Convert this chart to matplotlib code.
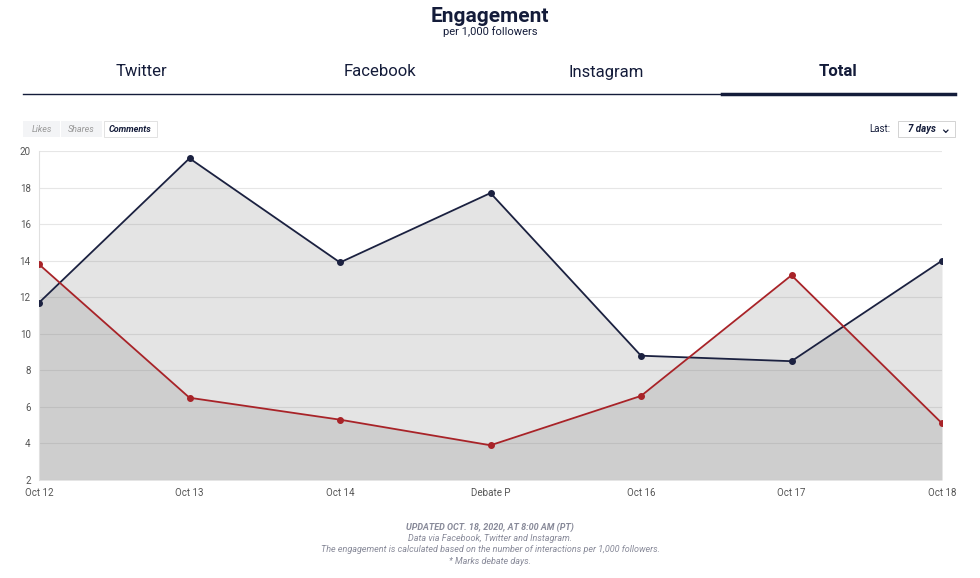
import matplotlib
matplotlib.use("Agg")
import matplotlib.pyplot as plt
from matplotlib.patches import FancyBboxPatch, Rectangle

categories = ["Oct 12", "Oct 13", "Oct 14", "Debate P", "Oct 16", "Oct 17", "Oct 18"]
navy_values = [11.7, 19.6, 13.9, 17.7, 8.8, 8.5, 14.0]
red_values = [13.8, 6.5, 5.3, 3.9, 6.6, 13.2, 5.1]
y_ticks = [2, 4, 6, 8, 10, 12, 14, 16, 18, 20]
tabs = ["Twitter", "Facebook", "Instagram", "Total"]

plt.rcParams["font.family"] = "Roboto"
fig = plt.figure(figsize=(9.8, 5.78), dpi=100)
W, H = 980, 578
def fx(px): return px / W
def fy(py): return 1 - py / H

ax = fig.add_axes([fx(39), fy(480), fx(942) - fx(39), fy(151) - fy(480)])
x = list(range(len(categories)))
for vals, col in [(navy_values, "#1b2140"), (red_values, "#a82328")]:
    ax.fill_between(x, 2, vals, color="#848484", alpha=0.22, linewidth=0)
for vals, col in [(navy_values, "#1b2140"), (red_values, "#a82328")]:
    ax.plot(x, vals, color=col, lw=1.3, marker="o", ms=4, zorder=3)
ax.set_xlim(0, len(categories) - 1)
ax.set_ylim(2, 20)
ax.set_yticks(y_ticks)
ax.set_xticks(x)
ax.set_xticklabels(categories)
ax.tick_params(labelsize=7, colors="#555555", length=0, pad=6)
ax.grid(axis="y", color="#e6e6e6", lw=0.8)
ax.set_axisbelow(True)
for s in ["top", "right", "bottom"]:
    ax.spines[s].set_visible(False)
ax.spines["left"].set_color("#e0e0e0")

fig.text(0.5, fy(16), "Engagement", ha="center", va="center", fontsize=15, fontweight="bold", color="#141c3a")
fig.text(0.5, fy(32), "per 1,000 followers", ha="center", va="center", fontsize=8, color="#141c3a")
tab_x = [141, 380, 606, 838]
for t, tx in zip(tabs, tab_x):
    fig.text(fx(tx), fy(72), t, ha="center", va="center", fontsize=12,
             fontweight="bold" if t == "Total" else "normal", color="#141c3a")
fig.add_artist(plt.Line2D([fx(23), fx(955)], [fy(94), fy(94)], color="#141c3a", lw=1))
fig.add_artist(plt.Line2D([fx(722), fx(955)], [fy(94), fy(94)], color="#141c3a", lw=2.5))

for label, x0, x1, active in [("Likes", 23, 60, False), ("Shares", 61, 102, False), ("Comments", 104, 157, True)]:
    fig.add_artist(Rectangle((fx(x0), fy(137)), fx(x1 - x0), fy(121) - fy(137),
                             facecolor="white" if active else "#f3f4f6",
                             edgecolor="#dddddd" if active else "none", lw=0.6))
    fig.text(fx((x0 + x1) / 2), fy(129), label, ha="center", va="center", fontsize=6.5,
             style="italic", fontweight="bold" if active else "normal",
             color="#141c3a" if active else "#999999")
fig.text(fx(890), fy(129), "Last:", ha="right", va="center", fontsize=7, color="#141c3a")
fig.add_artist(Rectangle((fx(898), fy(137)), fx(57), fy(121) - fy(137), facecolor="white", edgecolor="#cccccc", lw=0.6))
fig.text(fx(908), fy(129), "7 days", ha="left", va="center", fontsize=7, style="italic", fontweight="bold", color="#141c3a")
fig.text(fx(945), fy(129), "⌄", ha="center", va="center", fontsize=10, color="#141c3a", fontfamily="DejaVu Sans")

foot = ["UPDATED OCT. 18, 2020, AT 8:00 AM (PT)", "Data via Facebook, Twitter and Instagram.",
        "The engagement is calculated based on the number of interactions per 1,000 followers.",
        "* Marks debate days."]
for i, t in enumerate(foot):
    fig.text(0.5, fy(527 + 11.5 * i), t, ha="center", va="center", fontsize=6.5, style="italic",
             fontweight="bold" if i == 0 else "normal", color="#888a99")

fig.savefig("out.png", dpi=100)
